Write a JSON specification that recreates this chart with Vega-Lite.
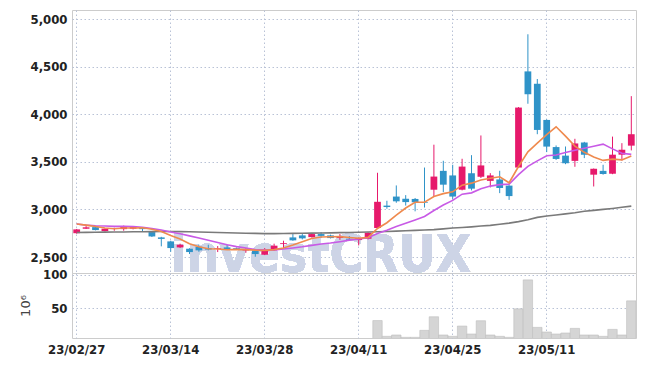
{
 "$schema": "https://vega.github.io/schema/vega-lite/v6.json",
 "background": "white",
 "padding": {"left": 19, "top": 9, "right": 10, "bottom": 5},
 "spacing": 0,
 "bounds": "flush",
 "config": {
  "view": {"stroke": "#cccccc"},
  "font": "DejaVu Sans Condensed, Liberation Sans Narrow, Roboto, sans-serif",
  "axis": {"labelFont": "DejaVu Sans Condensed, Liberation Sans Narrow, Roboto, sans-serif", "labelFontSize": 13, "labelFontWeight": "bold", "labelColor": "#222222", "domain": false, "ticks": false, "gridColor": "#b9c2d6", "gridDash": [1.5, 2.5], "gridWidth": 1, "labelPadding": 5}
 },
 "datasets": {
  "ohlc": [
   {"d":"23/02/27","o":2750,"h":2795,"l":2745,"c":2790,"v":3,"ma5":2846,"ma10":2846,"ma60":2758},
   {"d":"23/02/28","o":2797,"h":2825,"l":2795,"c":2812,"v":2,"ma5":2835,"ma10":2835,"ma60":2759},
   {"d":"23/03/02","o":2814,"h":2818,"l":2780,"c":2783,"v":2,"ma5":2820,"ma10":2828,"ma60":2760},
   {"d":"23/03/03","o":2772,"h":2800,"l":2768,"c":2797,"v":2,"ma5":2805,"ma10":2825,"ma60":2761},
   {"d":"23/03/06","o":2797,"h":2808,"l":2776,"c":2802,"v":2,"ma5":2797,"ma10":2822,"ma60":2762},
   {"d":"23/03/07","o":2793,"h":2830,"l":2776,"c":2825,"v":3,"ma5":2804,"ma10":2822,"ma60":2763},
   {"d":"23/03/08","o":2797,"h":2825,"l":2790,"c":2818,"v":2,"ma5":2805,"ma10":2820,"ma60":2765},
   {"d":"23/03/09","o":2811,"h":2815,"l":2770,"c":2793,"v":2,"ma5":2807,"ma10":2812,"ma60":2766},
   {"d":"23/03/10","o":2762,"h":2768,"l":2710,"c":2716,"v":3,"ma5":2791,"ma10":2800,"ma60":2767},
   {"d":"23/03/13","o":2706,"h":2712,"l":2612,"c":2690,"v":3,"ma5":2768,"ma10":2783,"ma60":2768},
   {"d":"23/03/14","o":2664,"h":2671,"l":2555,"c":2594,"v":4,"ma5":2725,"ma10":2763,"ma60":2768},
   {"d":"23/03/15","o":2601,"h":2640,"l":2595,"c":2629,"v":3,"ma5":2690,"ma10":2745,"ma60":2767},
   {"d":"23/03/16","o":2587,"h":2592,"l":2531,"c":2552,"v":3,"ma5":2640,"ma10":2722,"ma60":2765},
   {"d":"23/03/17","o":2608,"h":2629,"l":2555,"c":2570,"v":2,"ma5":2607,"ma10":2699,"ma60":2763},
   {"d":"23/03/20","o":2594,"h":2629,"l":2570,"c":2578,"v":2,"ma5":2587,"ma10":2677,"ma60":2760},
   {"d":"23/03/21","o":2584,"h":2615,"l":2552,"c":2592,"v":2,"ma5":2584,"ma10":2653,"ma60":2758},
   {"d":"23/03/22","o":2601,"h":2629,"l":2575,"c":2580,"v":2,"ma5":2576,"ma10":2629,"ma60":2755},
   {"d":"23/03/23","o":2594,"h":2600,"l":2580,"c":2586,"v":2,"ma5":2580,"ma10":2609,"ma60":2753},
   {"d":"23/03/24","o":2566,"h":2594,"l":2545,"c":2571,"v":2,"ma5":2578,"ma10":2594,"ma60":2750},
   {"d":"23/03/27","o":2566,"h":2570,"l":2503,"c":2531,"v":3,"ma5":2572,"ma10":2578,"ma60":2748},
   {"d":"23/03/28","o":2524,"h":2594,"l":2520,"c":2573,"v":3,"ma5":2570,"ma10":2576,"ma60":2746},
   {"d":"23/03/29","o":2570,"h":2640,"l":2566,"c":2619,"v":3,"ma5":2578,"ma10":2575,"ma60":2746},
   {"d":"23/03/30","o":2636,"h":2671,"l":2587,"c":2645,"v":2,"ma5":2595,"ma10":2584,"ma60":2747},
   {"d":"23/03/31","o":2706,"h":2741,"l":2670,"c":2675,"v":3,"ma5":2625,"ma10":2595,"ma60":2748},
   {"d":"23/04/03","o":2727,"h":2741,"l":2685,"c":2696,"v":3,"ma5":2660,"ma10":2607,"ma60":2750},
   {"d":"23/04/04","o":2709,"h":2745,"l":2705,"c":2741,"v":2,"ma5":2695,"ma10":2622,"ma60":2751},
   {"d":"23/04/05","o":2741,"h":2762,"l":2700,"c":2722,"v":2,"ma5":2710,"ma10":2636,"ma60":2753},
   {"d":"23/04/06","o":2727,"h":2735,"l":2695,"c":2699,"v":2,"ma5":2713,"ma10":2647,"ma60":2754},
   {"d":"23/04/07","o":2700,"h":2741,"l":2680,"c":2713,"v":2,"ma5":2714,"ma10":2661,"ma60":2756},
   {"d":"23/04/10","o":2692,"h":2720,"l":2675,"c":2682,"v":2,"ma5":2705,"ma10":2677,"ma60":2758},
   {"d":"23/04/11","o":2678,"h":2705,"l":2622,"c":2699,"v":2,"ma5":2697,"ma10":2689,"ma60":2760},
   {"d":"23/04/12","o":2692,"h":2760,"l":2685,"c":2755,"v":4,"ma5":2706,"ma10":2703,"ma60":2762},
   {"d":"23/04/13","o":2805,"h":3385,"l":2800,"c":3080,"v":31.3,"ma5":2800,"ma10":2746,"ma60":2765},
   {"d":"23/04/14","o":3040,"h":3091,"l":3007,"c":3025,"v":7.5,"ma5":2860,"ma10":2781,"ma60":2768},
   {"d":"23/04/17","o":3135,"h":3252,"l":3070,"c":3085,"v":9.5,"ma5":2940,"ma10":2820,"ma60":2772},
   {"d":"23/04/18","o":3112,"h":3150,"l":3040,"c":3077,"v":6,"ma5":3015,"ma10":2854,"ma60":2776},
   {"d":"23/04/19","o":3110,"h":3120,"l":2980,"c":3075,"v":6,"ma5":3075,"ma10":2889,"ma60":2780},
   {"d":"23/04/20","o":3077,"h":3440,"l":3020,"c":3070,"v":16.5,"ma5":3075,"ma10":2926,"ma60":2784},
   {"d":"23/04/21","o":3207,"h":3680,"l":3137,"c":3345,"v":37,"ma5":3135,"ma10":2989,"ma60":2788},
   {"d":"23/04/24","o":3405,"h":3511,"l":3182,"c":3260,"v":9.5,"ma5":3166,"ma10":3047,"ma60":2796},
   {"d":"23/04/25","o":3357,"h":3469,"l":3110,"c":3135,"v":7.5,"ma5":3185,"ma10":3095,"ma60":2804},
   {"d":"23/04/26","o":3207,"h":3532,"l":3200,"c":3450,"v":23,"ma5":3255,"ma10":3160,"ma60":2810},
   {"d":"23/04/27","o":3380,"h":3570,"l":3200,"c":3218,"v":11,"ma5":3276,"ma10":3174,"ma60":2817},
   {"d":"23/04/28","o":3343,"h":3777,"l":3330,"c":3462,"v":31,"ma5":3310,"ma10":3218,"ma60":2825},
   {"d":"23/05/02","o":3300,"h":3381,"l":3231,"c":3357,"v":9.5,"ma5":3328,"ma10":3245,"ma60":2832},
   {"d":"23/05/03","o":3315,"h":3406,"l":3171,"c":3225,"v":7.5,"ma5":3343,"ma10":3260,"ma60":2844},
   {"d":"23/05/04","o":3250,"h":3255,"l":3100,"c":3140,"v":6,"ma5":3280,"ma10":3266,"ma60":2856},
   {"d":"23/05/08","o":3440,"h":4075,"l":3435,"c":4070,"v":49,"ma5":3451,"ma10":3366,"ma60":2872},
   {"d":"23/05/09","o":4450,"h":4840,"l":4110,"c":4210,"v":92.6,"ma5":3605,"ma10":3453,"ma60":2891},
   {"d":"23/05/10","o":4320,"h":4370,"l":3790,"c":3835,"v":21,"ma5":3696,"ma10":3510,"ma60":2916},
   {"d":"23/05/11","o":3940,"h":3945,"l":3602,"c":3660,"v":14,"ma5":3785,"ma10":3563,"ma60":2930},
   {"d":"23/05/12","o":3655,"h":3672,"l":3520,"c":3530,"v":11,"ma5":3868,"ma10":3571,"ma60":2942},
   {"d":"23/05/15","o":3565,"h":3661,"l":3475,"c":3485,"v":12.5,"ma5":3770,"ma10":3597,"ma60":2953},
   {"d":"23/05/16","o":3510,"h":3742,"l":3448,"c":3693,"v":19.5,"ma5":3665,"ma10":3621,"ma60":2965},
   {"d":"23/05/17","o":3703,"h":3710,"l":3539,"c":3575,"v":9.5,"ma5":3600,"ma10":3642,"ma60":2980},
   {"d":"23/05/18","o":3365,"h":3430,"l":3241,"c":3427,"v":9.5,"ma5":3550,"ma10":3663,"ma60":2990},
   {"d":"23/05/19","o":3405,"h":3469,"l":3365,"c":3372,"v":7.5,"ma5":3515,"ma10":3686,"ma60":3000},
   {"d":"23/05/22","o":3375,"h":3765,"l":3370,"c":3575,"v":18,"ma5":3528,"ma10":3636,"ma60":3010},
   {"d":"23/05/23","o":3575,"h":3696,"l":3514,"c":3627,"v":9.5,"ma5":3520,"ma10":3590,"ma60":3022},
   {"d":"23/05/24","o":3670,"h":4190,"l":3620,"c":3790,"v":61,"ma5":3562,"ma10":3578,"ma60":3035}
  ]
 },
 "vconcat": [
  {
   "width": 564,
   "height": 263,
   "data": {"name": "ohlc"},
   "encoding": {
    "x": {"field": "d", "type": "ordinal", "scale": {"paddingInner": 0, "paddingOuter": 0},
      "axis": {"values": ["23/02/27","23/03/14","23/03/28","23/04/11","23/04/25","23/05/11"], "labels": false, "title": null, "grid": true, "bandPosition": 0.5, "minExtent": 0, "maxExtent": 0, "labelPadding": 0}}
   },
   "layer": [
    {
     "mark": {"type": "text", "text": "investCRUX", "font": "DejaVu Sans Condensed, Liberation Sans Narrow, Roboto, sans-serif", "fontWeight": "bold", "fontSize": 51, "align": "left", "baseline": "alphabetic", "color": "#cdd4e6", "clip": true},
     "encoding": {"x": {"datum": "23/03/14", "type": "ordinal"}, "y": {"datum": 2342, "type": "quantitative"}}
    },
    {
     "mark": {"type": "rule", "strokeWidth": 1},
     "encoding": {
      "y": {"field": "h", "type": "quantitative", "scale": {"domain": [2332, 5095], "zero": false, "nice": false},
        "axis": {"values": [2500,3000,3500,4000,4500,5000], "format": ",.0f", "title": null, "grid": true}},
      "y2": {"field": "l"},
      "color": {"condition": {"test": "datum.c >= datum.o", "value": "#e6196b"}, "value": "#2f93c8"}
     }
    },
    {
     "mark": {"type": "bar", "width": {"band": 0.72}},
     "encoding": {
      "y": {"field": "o", "type": "quantitative"},
      "y2": {"field": "c"},
      "color": {"condition": {"test": "datum.c >= datum.o", "value": "#e6196b"}, "value": "#2f93c8"}
     }
    },
    {
     "mark": {"type": "line", "color": "#7a7a7a", "strokeWidth": 1.6},
     "encoding": {"y": {"field": "ma60", "type": "quantitative"}}
    },
    {
     "mark": {"type": "line", "color": "#c85ae6", "strokeWidth": 1.6},
     "encoding": {"y": {"field": "ma10", "type": "quantitative"}}
    },
    {
     "mark": {"type": "line", "color": "#ef8a4e", "strokeWidth": 1.6},
     "encoding": {"y": {"field": "ma5", "type": "quantitative"}}
    }
   ]
  },
  {
   "width": 564,
   "height": 65,
   "data": {"name": "ohlc"},
   "mark": {"type": "bar", "width": {"band": 1}, "fill": "#d5d5d5", "stroke": "#bdbdbd", "strokeWidth": 0.6, "clip": true},
   "encoding": {
    "x": {"field": "d", "type": "ordinal", "scale": {"paddingInner": 0, "paddingOuter": 0},
      "axis": {"values": ["23/02/27","23/03/14","23/03/28","23/04/11","23/04/25","23/05/11"], "labelAngle": 0, "title": null, "grid": true, "bandPosition": 0.5}},
    "y": {"field": "v", "type": "quantitative", "scale": {"domain": [5, 103], "zero": false, "nice": false},
      "axis": {"values": [50, 100], "title": "10⁶", "titleFont": "DejaVu Sans", "titleFontSize": 13, "titleFontWeight": "normal", "titleColor": "#444444", "titlePadding": 10, "grid": true}}
   }
  }
 ]
}
